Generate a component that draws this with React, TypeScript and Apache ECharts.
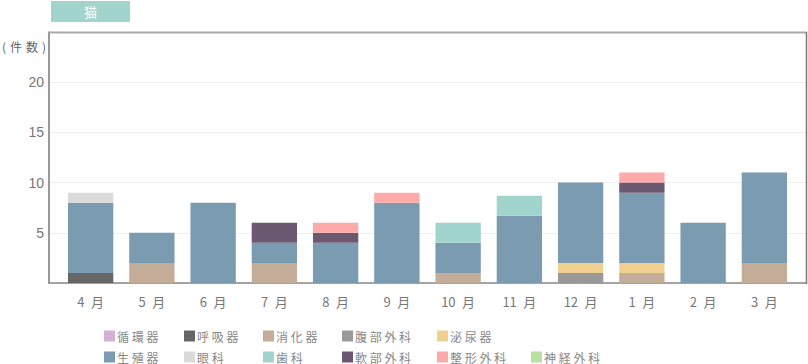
import React, { useEffect, useRef } from "react";
import * as echarts from "echarts";

const months = ["4", "5", "6", "7", "8", "9", "10", "11", "12", "1", "2", "3"];
const seriesNames = ["循環器", "呼吸器", "消化器", "腹部外科", "泌尿器", "生殖器", "眼科", "歯科", "軟部外科", "整形外科", "神経外科"];
const seriesColors = ["#d4b0d4", "#666666", "#c3ac98", "#999999", "#f0d090", "#7b9bb1", "#dadada", "#a0d4cc", "#6b5871", "#ffaaaa", "#b8e0a0"];

const junkan = [0, 0, 0, 0, 0, 0, 0, 0, 0, 0, 0, 0];
const kokyu = [1, 0, 0, 0, 0, 0, 0, 0, 0, 0, 0, 0];
const shoka = [0, 2, 0, 2, 0, 0, 1, 0, 0, 1, 0, 2];
const fukubu = [0, 0, 0, 0, 0, 0, 0, 0, 1, 0, 0, 0];
const hinyo = [0, 0, 0, 0, 0, 0, 0, 0, 1, 1, 0, 0];
const seishoku = [7, 3, 8, 2, 4, 8, 3, 6.7, 8, 7, 6, 9];
const ganka = [1, 0, 0, 0, 0, 0, 0, 0, 0, 0, 0, 0];
const shika = [0, 0, 0, 0, 0, 0, 2, 2, 0, 0, 0, 0];
const nanbu = [0, 0, 0, 2, 1, 0, 0, 0, 0, 1, 0, 0];
const seikei = [0, 0, 0, 0, 1, 1, 0, 0, 0, 1, 0, 0];
const shinkei = [0, 0, 0, 0, 0, 0, 0, 0, 0, 0, 0, 0];

const seriesData = [junkan, kokyu, shoka, fukubu, hinyo, seishoku, ganka, shika, nanbu, seikei, shinkei];

const yTicks = [5, 10, 15, 20];
const yMax = 25;

const spaced = (s: string) => s.split("").join(" ");

export default function App() {
  const ref = useRef<HTMLDivElement>(null);
  useEffect(() => {
    if (!ref.current) return;
    const chart = echarts.init(ref.current, null, { renderer: "svg" });
    const font = "'Noto Sans CJK JP', 'Noto Sans', sans-serif";

    const colX = [104, 184, 263, 342, 437, 531];
    // legend grid: row 1 has 5 items, row 2 has 6 items
    const legends = seriesNames.map((name, i) => {
      const row = i < 5 ? 0 : 1;
      const col = i < 5 ? i : i - 5;
      return {
        orient: "horizontal",
        left: colX[col],
        top: row === 0 ? 330 : 351,
        padding: 0,
        itemWidth: 11,
        itemHeight: 11,
        icon: "rect",
        data: [name],
        selectedMode: false,
        formatter: (n: string) => spaced(n),
        textStyle: { color: "#888", fontSize: 12, lineHeight: 11, fontFamily: font, padding: [0, 0, 0, -3] },
      };
    });

    chart.setOption({
      animation: false,
      textStyle: { fontFamily: font },
      legend: legends,
      grid: [
        { left: 49, right: 2, top: 32, bottom: 81 },
        { left: 60, right: 13, top: 32, bottom: 81 },
      ],
      xAxis: [
        {
          type: "category",
          gridIndex: 0,
          data: months,
          axisLine: { show: true, lineStyle: { color: "#888", width: 1.5 } },
          axisTick: { show: false },
          axisLabel: { show: false },
        },
        {
          type: "category",
          gridIndex: 1,
          data: months,
          axisLine: { show: false },
          axisTick: { show: false },
          axisLabel: {
            color: "#777",
            fontSize: 13,
            margin: 12,
            fontFamily: font,
            formatter: (v: string) => v + "\u2002月",
          },
        },
      ],
      yAxis: [
        {
          type: "value",
          gridIndex: 0,
          min: 0,
          max: yMax,
          interval: 5,
          axisLine: { show: true, lineStyle: { color: "#777", width: 1.5 } },
          axisTick: { show: false },
          splitLine: { lineStyle: { color: "#eeeeee" } },
          axisLabel: {
            color: "#777",
            fontSize: 14,
            margin: 5,
            fontFamily: "'Liberation Sans', Arial, sans-serif",
            formatter: (v: number) => (yTicks.includes(v) ? String(v) : ""),
          },
        },
        {
          type: "value",
          gridIndex: 1,
          min: 0,
          max: yMax,
          interval: 5,
          show: false,
          splitLine: { show: false },
        },
      ],
      graphic: [
        { type: "rect", left: 51, top: 1, shape: { width: 79, height: 21 }, style: { fill: "#a0d4cc" } },
        {
          type: "text",
          x: 90.5,
          y: 11.5,
          style: { text: "猫", fill: "#fff", fontSize: 13, fontFamily: font, align: "center", verticalAlign: "middle" },
        },
        {
          type: "text",
          x: 2,
          y: 46,
          style: { text: "(\u2004件\u2004数\u2004)", fill: "#666", fontSize: 12, fontFamily: font, align: "left", verticalAlign: "middle" },
        },
        { type: "line", shape: { x1: 49, y1: 32.5, x2: 807, y2: 32.5 }, style: { stroke: "#aaa", lineWidth: 2 }, z: 10 },
        { type: "line", shape: { x1: 806.5, y1: 32, x2: 806.5, y2: 284 }, style: { stroke: "#777", lineWidth: 1.5 }, z: 10 },
      ],
      series: seriesNames.map((name, i) => ({
        name,
        type: "bar",
        stack: "total",
        xAxisIndex: 1,
        yAxisIndex: 1,
        barCategoryGap: "26%",
        itemStyle: { color: seriesColors[i] },
        data: seriesData[i],
      })),
    });
    return () => chart.dispose();
  }, []);
  return <div ref={ref} style={{ position: "absolute", left: 0, top: 0, width: 808, height: 364 }} />;
}
